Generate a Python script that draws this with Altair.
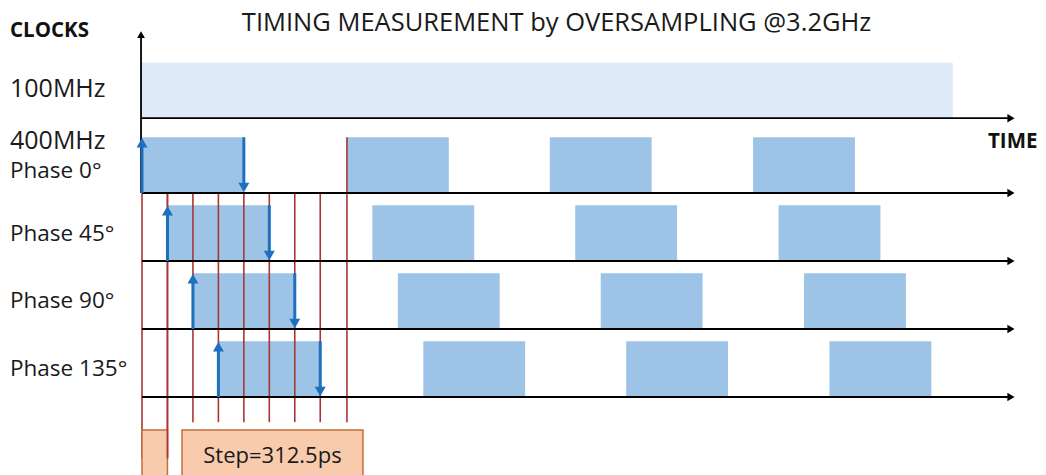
import altair as alt
import pandas as pd

# ---- diagram data (time in ps, level in lane units) ----
phase_labels = ["Phase 0°", "Phase 45°", "Phase 90°", "Phase 135°"]
lane_base = [3.0, 2.0, 1.0, 0.0]
high_level = 0.82
half_period_ps = 1250
rise_ps = [
    [0, 2515, 5005, 7500],
    [312.5, 2827.5, 5317.5, 7812.5],
    [625, 3140, 5630, 8125],
    [937.5, 3452.5, 5942.5, 8437.5],
]
clk100_base = 4.1
clk100_span = [0, 9950]
axis_end_ps = 10640
arrow_tip_ps = 10665
sample_edges_ps = [0, 312.5, 625, 937.5, 1250, 1562.5, 1875, 2187.5, 2515]
sample_top = [3.0, 3.0, 3.0, 3.0, 3.0, 3.0, 3.0, 3.0, 3.82]
sample_bottom = [-0.90, -0.90, -0.37, -0.37, -0.37, -0.37, -0.37, -0.37, -0.37]
step_boxes = [(0, 312.5), (491, 2712)]
step_box_v = (-0.485, -1.2)

XMIN, XMAX = -1644.6, 10996.6
YMIN, YMAX = -1.147, 5.721
xs = alt.Scale(domain=[XMIN, XMAX], nice=False, zero=False)
ys = alt.Scale(domain=[YMIN, YMAX], nice=False, zero=False)

def X(f):
    return alt.X(f, type="quantitative", scale=xs, axis=None)

def Y(f):
    return alt.Y(f, type="quantitative", scale=ys, axis=None)

FONT = "Open Sans"

# 100MHz band
band = pd.DataFrame({"t0": [clk100_span[0]], "t1": [clk100_span[1]],
                     "v0": [clk100_base], "v1": [clk100_base + high_level]})
band_l = alt.Chart(band).mark_rect(color="#deebf7").encode(
    x=X("t0"), x2="t1", y=Y("v0"), y2="v1")

# 400MHz boxes
rows = []
for i, rs in enumerate(rise_ps):
    for r in rs:
        rows.append({"t0": r, "t1": r + half_period_ps,
                     "v0": lane_base[i], "v1": lane_base[i] + high_level})
boxes = pd.DataFrame(rows)
box_l = alt.Chart(boxes).mark_rect(color="#9dc3e6").encode(
    x=X("t0"), x2="t1", y=Y("v0"), y2="v1")

# red sampling lines
red = pd.DataFrame({"t": sample_edges_ps, "top": sample_top, "bot": sample_bottom})
red_l = alt.Chart(red).mark_rule(color="#a93535", strokeWidth=1.6).encode(
    x=X("t"), y=Y("top"), y2="bot")

# orange step boxes
ob = pd.DataFrame({"t0": [b[0] for b in step_boxes], "t1": [b[1] for b in step_boxes],
                   "v0": [step_box_v[0]] * 2, "v1": [step_box_v[1]] * 2})
ob_l = alt.Chart(ob).mark_rect(fill="#f8cbad", stroke="#c0703a", strokeWidth=1.5).encode(
    x=X("t0"), x2="t1", y=Y("v0"), y2="v1")
red_over = alt.Chart(red.iloc[1:2]).mark_rule(color="#a93535", strokeWidth=1.6).encode(
    x=X("t"), y=Y("top"), y2="bot")

# baselines with arrows
bases = pd.DataFrame({"v": [clk100_base] + lane_base, "t0": [0] * 5, "t1": [axis_end_ps] * 5,
                      "tip": [arrow_tip_ps] * 5})
base_l = alt.Chart(bases).mark_rule(color="black", strokeWidth=1.8).encode(
    x=X("t0"), x2="t1", y=Y("v"))
base_head = alt.Chart(bases).mark_point(shape="triangle-right", filled=True, color="black",
                                        size=70, opacity=1).encode(x=X("tip"), y=Y("v"))

# vertical axis
vax = pd.DataFrame({"t": [-12], "v0": [lane_base[0]], "v1": [5.33], "tip": [5.33]})
vax_l = alt.Chart(vax).mark_rule(color="black", strokeWidth=1.8).encode(
    x=X("t"), y=Y("v0"), y2="v1")
vax_head = alt.Chart(vax).mark_point(shape="triangle-up", filled=True, color="black",
                                     size=60, opacity=1).encode(x=X("t"), y=Y("tip"))

# blue edge arrows (first cycle)
up = pd.DataFrame({"t": [rs[0] for rs in rise_ps], "v0": lane_base,
                   "v1": [b + high_level for b in lane_base],
                   "head": [b + high_level - 0.08 for b in lane_base]})
down = pd.DataFrame({"t": [rs[0] + half_period_ps for rs in rise_ps],
                     "v0": [b + high_level for b in lane_base], "v1": lane_base,
                     "head": [b + 0.08 for b in lane_base]})
BLUE = "#1f6fbf"
up_l = alt.Chart(up).mark_rule(color=BLUE, strokeWidth=3).encode(x=X("t"), y=Y("v0"), y2="head")
up_h = alt.Chart(up).mark_point(shape="triangle-up", filled=True, color=BLUE, size=120,
                                opacity=1).encode(x=X("t"), y=Y("head"))
dn_l = alt.Chart(down).mark_rule(color=BLUE, strokeWidth=3).encode(x=X("t"), y=Y("v0"), y2="head")
dn_h = alt.Chart(down).mark_point(shape="triangle-down", filled=True, color=BLUE, size=120,
                                  opacity=1).encode(x=X("t"), y=Y("head"))

# texts
LX = -1620
lab = pd.DataFrame({
    "text": ["100MHz", "400MHz"],
    "t": [LX, LX], "v": [4.412, 3.647]})
lab_l = alt.Chart(lab).mark_text(align="left", baseline="alphabetic", font=FONT,
                                 fontSize=25, color="#1a1a1a").encode(
    x=X("t"), y=Y("v"), text="text")
ph = pd.DataFrame({"text": phase_labels, "t": [LX] * 4, "v": [3.221, 2.294, 1.309, 0.309]})
ph_l = alt.Chart(ph).mark_text(align="left", baseline="alphabetic", font=FONT,
                               fontSize=22.5, color="#1a1a1a").encode(
    x=X("t"), y=Y("v"), text="text")
bold = pd.DataFrame({"text": ["CLOCKS", "TIME"], "t": [LX, 10990], "v": [5.294, 3.662]})
clk_l = alt.Chart(bold.iloc[:1]).mark_text(align="left", baseline="alphabetic", font=FONT,
                                           fontSize=20.5, fontWeight="bold", color="#111").encode(
    x=X("t"), y=Y("v"), text="text")
time_l = alt.Chart(bold.iloc[1:]).mark_text(align="right", baseline="alphabetic", font=FONT,
                                            fontSize=20.5, fontWeight="bold", color="#111").encode(
    x=X("t"), y=Y("v"), text="text")
title = pd.DataFrame({"text": ["TIMING MEASUREMENT by OVERSAMPLING @3.2GHz"],
                      "t": [5088], "v": [5.383]})
title_l = alt.Chart(title).mark_text(align="center", baseline="alphabetic", font=FONT,
                                     fontSize=25.5, color="#1a1a1a").encode(
    x=X("t"), y=Y("v"), text="text")
step = pd.DataFrame({"text": ["Step=312.5ps"], "t": [1601], "v": [-0.97]})
step_l = alt.Chart(step).mark_text(align="center", baseline="alphabetic", font=FONT,
                                   fontSize=22, color="#1a1a1a").encode(
    x=X("t"), y=Y("v"), text="text")

chart = alt.layer(
    band_l, box_l, red_l, ob_l, red_over, base_l, base_head, vax_l, vax_head,
    up_l, up_h, dn_l, dn_h, lab_l, ph_l, clk_l, time_l, title_l, step_l
).properties(
    width=1030, height=467, padding=0,
    autosize=alt.AutoSizeParams(type="none"),
    background="white",
).configure_view(stroke=None)

chart.save("out.html", embed_options={"renderer": "svg", "actions": False})
